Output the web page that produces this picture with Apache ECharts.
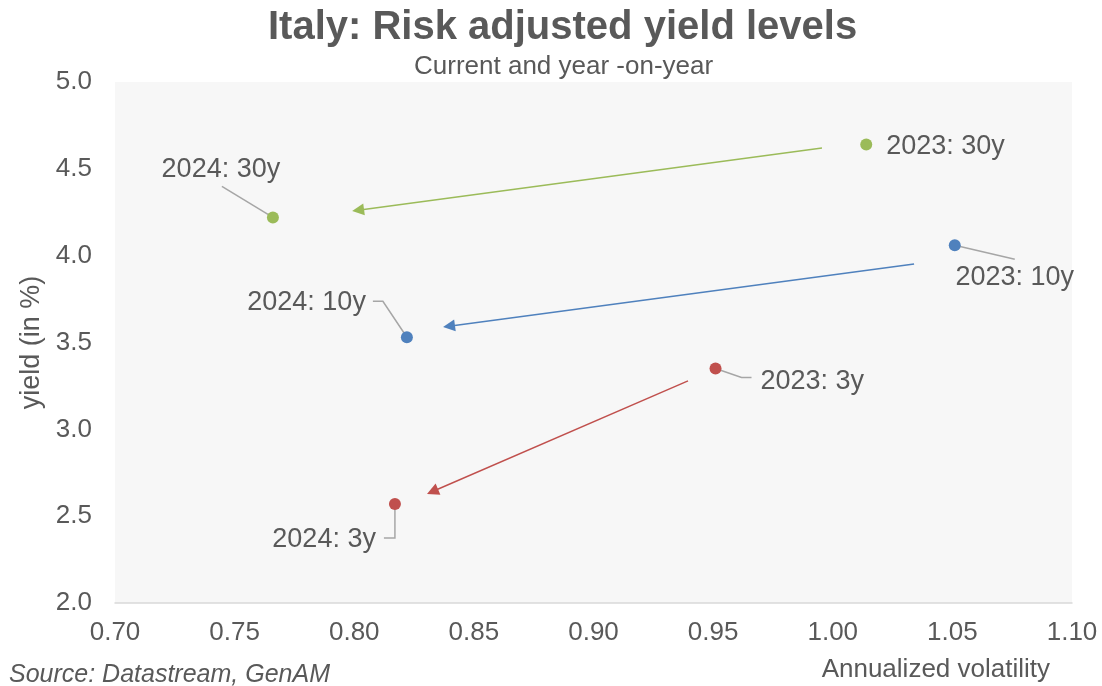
<!DOCTYPE html>
<html>
<head>
<meta charset="utf-8">
<title>Italy: Risk adjusted yield levels</title>
<script src="https://cdn.jsdelivr.net/npm/echarts@6/dist/echarts.min.js"></script>
<style>
  html, body { margin: 0; padding: 0; background: #fff; }
  #chart { width: 1102px; height: 686px; }
</style>
</head>
<body>
<div id="chart"></div>
<script>
  // data
  const tenors = ['30y', '10y', '3y'];
  const vol2023 = [1.014, 1.051, 0.951];
  const yld2023 = [4.64, 4.06, 3.35];
  const vol2024 = [0.766, 0.822, 0.817];
  const yld2024 = [4.22, 3.53, 2.57];
  // arrows (2023 -> 2024), start and end in axis units
  const arrowFrom = [[0.9955, 4.620], [1.034, 3.952], [0.9395, 3.279]];
  const arrowTo = [[0.8016, 4.262], [0.8396, 3.594], [0.8327, 2.642]];
  const xTicks = { min: 0.70, max: 1.10, interval: 0.05 };
  const yTicks = { min: 2.0, max: 5.0, interval: 0.5 };

  const colors = ['#9bbb59', '#4f81bd', '#c0504d']; // 30y, 10y, 3y
  const textColor = '#595959';
  const font = 'Liberation Sans, Arial, sans-serif';

  // label placement, pixel offsets from the marker (leader polyline + text anchor)
  const labelStyle = {
    '2023: 30y': { line: null, text: [20, 2], align: 'left' },
    '2024: 30y': { line: [[0, 0], [-51, -31]], text: [-52, -48], align: 'center' },
    '2023: 10y': { line: [[0, 0], [60, 14]], text: [60, 32], align: 'center' },
    '2024: 10y': { line: [[0, 0], [-24, -36], [-34, -36]], text: [-41, -35], align: 'right' },
    '2023: 3y': { line: [[0, 0], [26, 9], [36, 9]], text: [45, 13], align: 'left' },
    '2024: 3y': { line: [[0, 0], [0, 34], [-11, 34]], text: [-19, 36], align: 'right' }
  };

  const labelNames = [];
  const labelPoints = [];
  tenors.forEach((t, i) => {
    labelNames.push('2023: ' + t, '2024: ' + t);
    labelPoints.push([vol2023[i], yld2023[i]], [vol2024[i], yld2024[i]]);
  });

  const myChart = echarts.init(document.getElementById('chart'));

  const series = [];
  // arrows
  tenors.forEach((t, i) => {
    series.push({
      name: 'move ' + t,
      type: 'lines',
      coordinateSystem: 'cartesian2d',
      symbol: ['none', 'triangle'],
      symbolSize: [0, 12],
      silent: true,
      z: 2,
      lineStyle: { color: colors[i], width: 1.5, opacity: 1, curveness: 0 },
      data: [{ coords: [arrowFrom[i], arrowTo[i]] }]
    });
  });
  // leader lines + labels
  series.push({
    type: 'custom',
    z: 3,
    silent: true,
    data: labelPoints,
    renderItem: function (params, api) {
      const p = api.coord([api.value(0), api.value(1)]);
      const name = labelNames[params.dataIndex];
      const st = labelStyle[name];
      const children = [];
      if (st.line) {
        children.push({
          type: 'polyline',
          shape: { points: st.line.map(o => [p[0] + o[0], p[1] + o[1]]) },
          style: { stroke: '#a6a6a6', lineWidth: 1.5, fill: null }
        });
      }
      children.push({
        type: 'text',
        style: {
          text: name,
          x: p[0] + st.text[0],
          y: p[1] + st.text[1],
          align: st.align,
          verticalAlign: 'middle',
          fill: textColor,
          font: '27px ' + font
        }
      });
      return { type: 'group', children: children };
    }
  });
  // points
  tenors.forEach((t, i) => {
    series.push({
      name: t,
      type: 'scatter',
      symbolSize: 12,
      z: 4,
      itemStyle: { color: colors[i], opacity: 1 },
      data: [[vol2023[i], yld2023[i]], [vol2024[i], yld2024[i]]]
    });
  });

  myChart.setOption({
    animation: false,
    backgroundColor: '#ffffff',
    textStyle: { fontFamily: font },
    title: [
      {
        text: 'Italy: Risk adjusted yield levels',
        left: 263,
        top: 3,
        textStyle: { color: textColor, fontSize: 40, fontWeight: 'bold', fontFamily: font }
      },
      {
        text: 'Current and year -on-year',
        left: 409,
        top: 49,
        textStyle: { color: textColor, fontSize: 26, fontWeight: 'normal', fontFamily: font }
      },
      {
        text: 'Source: Datastream, GenAM',
        left: 4,
        top: 658,
        textStyle: { color: textColor, fontSize: 25, fontStyle: 'italic', fontWeight: 'normal', fontFamily: font }
      },
      {
        text: 'Annualized volatility',
        right: 47,
        top: 652,
        textStyle: { color: textColor, fontSize: 26, fontWeight: 'normal', fontFamily: font }
      }
    ],
    grid: {
      left: 115,
      right: 30,
      top: 82,
      bottom: 83,
      show: true,
      backgroundColor: '#f7f7f7',
      borderWidth: 0
    },
    xAxis: {
      type: 'value',
      min: xTicks.min,
      max: xTicks.max,
      interval: xTicks.interval,
      axisLine: { show: true, onZero: false, lineStyle: { color: '#d9d9d9', width: 1.5 } },
      axisTick: { show: false },
      splitLine: { show: false },
      axisLabel: {
        color: textColor,
        fontSize: 26,
        margin: 17,
        formatter: v => v.toFixed(2)
      }
    },
    yAxis: {
      type: 'value',
      min: yTicks.min,
      max: yTicks.max,
      interval: yTicks.interval,
      name: 'yield (in %)',
      nameLocation: 'middle',
      nameGap: 64,
      nameTextStyle: { color: textColor, fontSize: 27 },
      axisLine: { show: false },
      axisTick: { show: false },
      splitLine: { show: false },
      axisLabel: {
        color: textColor,
        fontSize: 26,
        margin: 23,
        formatter: v => v.toFixed(1)
      }
    },
    series: series
  });
</script>
</body>
</html>
